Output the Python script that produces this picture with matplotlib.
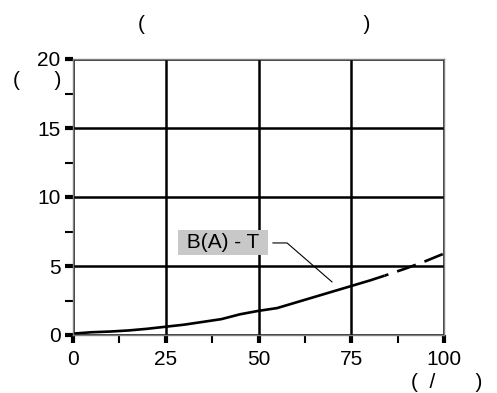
import matplotlib
matplotlib.use("Agg")
import matplotlib.pyplot as plt
from matplotlib.ticker import MultipleLocator

plt.rcParams["font.family"] = ["Liberation Sans", "DejaVu Sans"]

# curve
load_pct = [0, 5, 10, 15, 20, 25, 30, 35, 40, 45, 50, 55, 60, 65, 70, 75, 80, 84]
level = [0.1, 0.2, 0.25, 0.33, 0.45, 0.6, 0.75, 0.95, 1.15, 1.5, 1.75, 1.95, 2.35, 2.75, 3.15, 3.55, 3.95, 4.3]
load_ext = [84, 90, 95, 100]
level_ext = [4.3, 4.85, 5.35, 5.9]

x_ticks = [0, 25, 50, 75, 100]
y_ticks = [0, 5, 10, 15, 20]
series_label = " B(A) - T "
title_text = "(" + " " * 38 + ")"
ylabel_text = "(" + " " * 6 + ")"
xlabel_text = "(  /" + " " * 7 + ")"

# leader line: box edge -> bend -> curve
leader_x = [53.9, 57.7, 69.8]
leader_y = [6.67, 6.67, 3.85]

fig = plt.figure(figsize=(4.97, 3.93), dpi=100)
ax = fig.add_axes([73 / 497, 1 - 335 / 393, 371 / 497, 276 / 393])

ax.plot(load_pct, level, color="black", linewidth=1.9, solid_capstyle="butt")
ax.plot(load_ext, level_ext, color="black", linewidth=1.9, linestyle=(6.0, (7.5, 3.5)))

ax.set_xlim(0, 100)
ax.set_ylim(0, 20)
ax.set_xticks(x_ticks)
ax.set_yticks(y_ticks)
ax.xaxis.set_minor_locator(MultipleLocator(12.5))
ax.yaxis.set_minor_locator(MultipleLocator(2.5))
ax.tick_params(which="major", direction="out", length=6, width=3, color="black",
               labelsize=15, pad=3)
ax.tick_params(axis="x", which="major", pad=5)
ax.tick_params(which="minor", direction="out", length=6, width=1.5, color="black")
ax.grid(True, which="major", color="black", linewidth=1.8)
ax.set_axisbelow(True)
for side in ax.spines.values():
    side.set_color("#808080")
    side.set_linewidth(1)

ax.plot(leader_x, leader_y, color="black", linewidth=0.8)
ax.text(40.4, 6.7, series_label, fontsize=15, ha="center", va="center",
        bbox=dict(boxstyle="square,pad=0.15", facecolor="#c8c8c8", edgecolor="none"))

fig.text(254 / 497, 1 - 25 / 393, title_text, fontsize=15, ha="center", va="center")
fig.text(37 / 497, 1 - 81 / 393, ylabel_text, fontsize=15, ha="center", va="center")
fig.text(447 / 497, 1 - 383 / 393, xlabel_text, fontsize=15, ha="center", va="center")

fig.savefig("out.png", dpi=100)
